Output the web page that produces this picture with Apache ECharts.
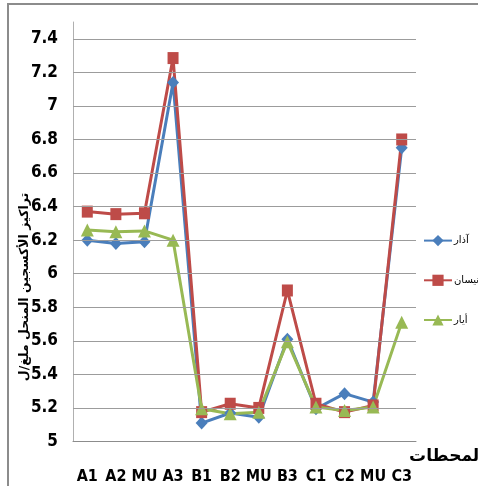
<!DOCTYPE html>
<html>
<head>
<meta charset="utf-8">
<script src="https://cdn.jsdelivr.net/npm/echarts@6/dist/echarts.min.js"></script>
<style>
  html, body { margin: 0; padding: 0; background: #fff; }
  #chart { width: 478px; height: 486px; }
</style>
</head>
<body>
<div id="chart"></div>
<script>
// Sampling stations along the x axis
const stations = ['A1', 'A2', 'MU', 'A3', 'B1', 'B2', 'MU', 'B3', 'C1', 'C2', 'MU', 'C3'];

// Dissolved oxygen (mg/L) per month
const march = [6.20, 6.18, 6.19, 7.14, 5.11, 5.17, 5.145, 5.61, 5.195, 5.285, 5.235, 6.75];
const april = [6.37, 6.355, 6.36, 7.285, 5.175, 5.225, 5.20, 5.90, 5.225, 5.175, 5.215, 6.80];
const may = [6.26, 6.25, 6.255, 6.20, 5.195, 5.165, 5.175, 5.595, 5.205, 5.185, 5.205, 5.71];

const seriesNames = ['آذار', 'نيسان', 'أيار'];

// Value axis settings and the gridline values
const yMin = 5;
const yMax = 7.5;
const yStep = 0.2;
const gridValues = [5.2, 5.4, 5.6, 5.8, 6.0, 6.2, 6.4, 6.6, 6.8, 7.0, 7.2, 7.4];

const yTitle = 'تراكيز الأكسجين المنحل ملغ/ل';
const xTitle = 'المحطات';

const chart = echarts.init(document.getElementById('chart'), null, { renderer: 'canvas' });

const labelFont = "'DejaVu Sans Condensed', 'Liberation Sans Narrow', sans-serif";
const arabicFont = "'DejaVu Sans', sans-serif";

function lineSeries(name, data, color, symbol, size) {
  return {
    name: name,
    type: 'line',
    data: data,
    symbol: symbol,
    symbolSize: size,
    lineStyle: { color: color, width: 3 },
    itemStyle: { color: color },
    animation: false,
    z: 3
  };
}

const series = [
  lineSeries(seriesNames[0], march, '#4a7ebb', 'diamond', [12, 13]),
  lineSeries(seriesNames[1], april, '#be4b48', 'rect', [11, 12]),
  lineSeries(seriesNames[2], may, '#98b954', 'triangle', [13, 13])
];

// Horizontal gridlines placed through the value scale
series[0].markLine = {
  silent: true,
  symbol: 'none',
  animation: false,
  label: { show: false },
  lineStyle: { color: '#9c9c9c', width: 1, type: 'solid' },
  emphasis: { disabled: true },
  data: gridValues.map(v => ({ yAxis: v }))
};

chart.setOption({
  animation: false,
  backgroundColor: '#ffffff',
  grid: { left: 73, right: 62, top: 22, bottom: 44.5, containLabel: false },
  xAxis: {
    type: 'category',
    data: stations,
    boundaryGap: true,
    axisLine: { show: true, lineStyle: { color: '#8c8c8c', width: 1 } },
    axisTick: { show: false },
    axisLabel: {
      color: '#000',
      fontFamily: labelFont,
      fontSize: 16,
      fontWeight: 'bold',
      margin: 27,
      interval: 0
    },
    splitLine: { show: false }
  },
  yAxis: {
    type: 'value',
    min: yMin,
    max: yMax,
    interval: yStep,
    axisLine: { show: true, lineStyle: { color: '#b0b0b0', width: 1 } },
    axisTick: { show: false },
    axisLabel: {
      color: '#000',
      fontFamily: labelFont,
      fontSize: 17,
      fontWeight: 'bold',
      margin: 15,
      showMaxLabel: false,
      formatter: v => String(Math.round(v * 10) / 10)
    },
    splitLine: { show: false }
  },
  legend: {
    orient: 'vertical',
    left: 423,
    top: 235,
    padding: 0,
    itemWidth: 28,
    itemHeight: 14,
    itemGap: 28.5,
    data: seriesNames,
    textStyle: { color: '#000', fontFamily: arabicFont, fontSize: 10, padding: [0, 0, 0, -3] }
  },
  graphic: [
    {
      type: 'rect',
      shape: { x: 8, y: 4, width: 520, height: 520 },
      style: { fill: 'none', stroke: '#8c8c8c', lineWidth: 2 },
      silent: true,
      z: 0
    },
    {
      type: 'text',
      x: 25,
      y: 287,
      rotation: Math.PI / 2,
      style: {
        text: yTitle,
        fill: '#000',
        font: "bold 12.5px 'DejaVu Sans', sans-serif",
        align: 'center',
        verticalAlign: 'middle'
      },
      silent: true
    },
    {
      type: 'text',
      x: 485,
      y: 457,
      style: {
        text: xTitle,
        fill: '#000',
        font: "bold 17px 'DejaVu Sans', sans-serif",
        align: 'right',
        verticalAlign: 'middle'
      },
      silent: true
    }
  ],
  series: series
});
</script>
</body>
</html>
